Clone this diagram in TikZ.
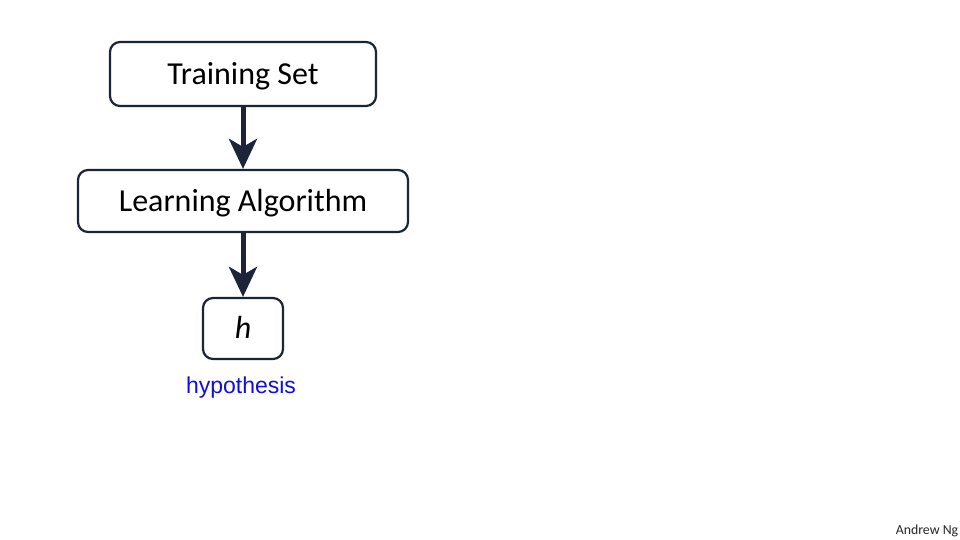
\documentclass[tikz,border=0pt]{standalone}
\usepackage{fontspec}
\setmainfont{Carlito}
\newfontfamily\handfont{Liberation Sans}
\usetikzlibrary{arrows.meta}
\definecolor{navy}{HTML}{1B2438}
\definecolor{penblue}{HTML}{1010D8}
\begin{document}
\begin{tikzpicture}[x=1pt,y=-1pt,
  box/.style={draw=navy,line width=2.2pt,rounded corners=10pt,fill=white,inner sep=0pt,text height=20.6pt,text depth=0pt,font=\fontsize{32}{36}\selectfont},
  flow/.style={draw=navy,line width=5pt,-{Stealth[length=30pt,width=28pt,inset=8pt]}}]
\useasboundingbox[fill=white] (0,0) rectangle (960,540);
\node[box,minimum width=266pt,minimum height=64pt] (ts) at (243,74) {Training Set};
\node[box,minimum width=330pt,minimum height=62pt] (la) at (243,201) {Learning Algorithm};
\node[box,minimum width=80pt,minimum height=61pt] (h) at (243,328.5) {\itshape h};
\draw[flow] (ts.south) -- (la.north);
\draw[flow] (la.south) -- (h.north);
\node[text=penblue,font=\handfont\fontsize{23}{26}\selectfont] (hyp) at (241,388) {hypothesis};
\node[font=\fontsize{13.8}{16}\selectfont,text=black!85] (ng) at (927,531) {Andrew Ng};
\end{tikzpicture}
\end{document}
